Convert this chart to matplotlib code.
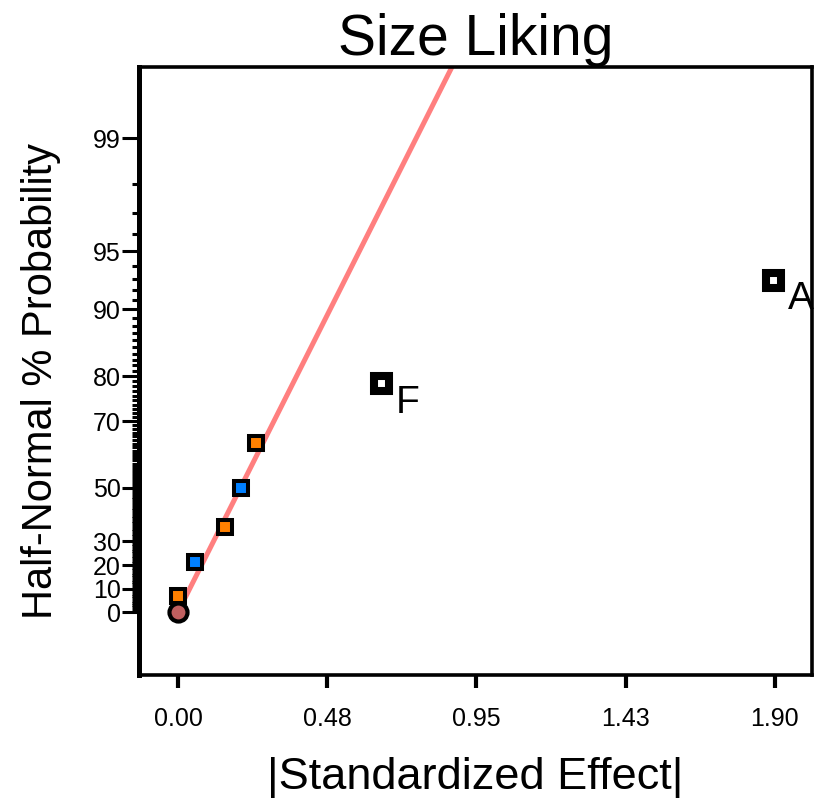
import numpy as np
import matplotlib
matplotlib.use("Agg")
import matplotlib.pyplot as plt
from statistics import NormalDist

plt.rcParams['font.family'] = ['Liberation Sans', 'DejaVu Sans']

# half-normal plot data
effect_abs = [0.0, 0.054, 0.150, 0.200, 0.248, 0.646, 1.894]
effect_prob = [7.14, 21.4, 35.7, 50.0, 64.3, 78.6, 92.9]
effect_color = ['#ff8000', '#0080ff', '#ff8000', '#0080ff', '#ff8000', 'white', 'white']
effect_label = ['', '', '', '', '', 'F', 'A']

error_abs = [0.0]
error_prob = [0.0]

fit_slope = 0.2944  # |effect| per half-normal quantile

major_probs = [0, 10, 20, 30, 50, 70, 80, 90, 95, 99]
x_ticks = [0.0, 0.475, 0.95, 1.425, 1.90]
x_ticklabels = ['0.00', '0.48', '0.95', '1.43', '1.90']

nd = NormalDist()


def hn(p):
    # percent probability -> half-normal quantile
    return np.array([nd.inv_cdf(0.5 + v / 200.0) for v in np.atleast_1d(p)])


fig = plt.figure(figsize=(8.16, 7.98), dpi=100)
ax = fig.add_axes([139/816, 1-675/798, (812-139)/816, (675-67)/798])

# fitted line
qline = np.array([0.0, 3.2])
ax.plot(fit_slope * qline, qline, color='#ff7f7f', lw=3.6, zorder=2, solid_capstyle='butt')

# error point
ax.plot(error_abs, hn(error_prob), 'o', ms=13, mfc='#c06060', mec='black', mew=3, zorder=3)

# effects
for x, p, c, lab in zip(effect_abs, effect_prob, effect_color, effect_label):
    q = hn(p)[0]
    if lab:
        ax.plot([x], [q], 's', ms=10.8, mfc=c, mec='black', mew=5.8, zorder=4)
        ax.annotate(lab, (x, q), xytext=(11, -1), textcoords='offset points',
                    ha='left', va='top', fontsize=28, annotation_clip=False)
    else:
        ax.plot([x], [q], 's', ms=10, mfc=c, mec='black', mew=2.9, zorder=4)

ax.set_xlim(-0.124, 2.018)
ax.set_ylim(-0.342, 2.962)

ax.set_xticks(x_ticks)
ax.set_xticklabels(x_ticklabels)
ax.set_yticks(hn(major_probs))
ax.set_yticklabels([str(p) for p in major_probs])
minor_probs = [p for p in range(1, 99) if p not in major_probs]
ax.set_yticks(hn(minor_probs), minor=True)

ax.tick_params(axis='x', length=9, width=3, pad=14, labelsize=18)
ax.tick_params(axis='y', which='major', length=12, width=2.2, pad=1, labelsize=18)
ax.tick_params(axis='y', which='minor', length=5, width=2.2)

for s in ax.spines.values():
    s.set_linewidth(2.6)
ax.spines['left'].set_linewidth(3.6)

ax.set_title('Size Liking', fontsize=41, pad=8)
ax.set_xlabel('|Standardized Effect|', fontsize=32.5, va='top')
ax.xaxis.set_label_coords(0.5, -0.1349)
ax.set_ylabel('Half-Normal % Probability', fontsize=30, va='bottom')
ax.yaxis.set_label_coords(-0.1159, 0.4836)

fig.savefig('out.png', dpi=100)
